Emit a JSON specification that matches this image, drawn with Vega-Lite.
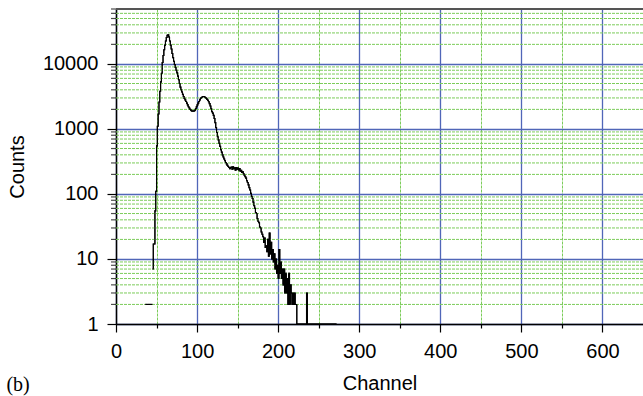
{
  "$schema": "https://vega.github.io/schema/vega-lite/v6.json",
  "width": 527,
  "height": 315,
  "autosize": {"type": "none"},
  "padding": {"left": 116, "top": 9, "right": 0, "bottom": 72},
  "background": "white",
  "config": {
    "view": {"stroke": null},
    "font": "Liberation Sans"
  },
  "title": {
    "text": "(b)",
    "orient": "bottom",
    "anchor": "start",
    "frame": "bounds",
    "font": "Liberation Serif",
    "fontSize": 20,
    "fontWeight": "normal",
    "color": "black",
    "dx": -1,
    "dy": -22
  },
  "datasets": {
    "minor": [
      {"g": 2}, {"g": 3}, {"g": 4}, {"g": 5}, {"g": 6}, {"g": 7}, {"g": 8}, {"g": 9},
      {"g": 20}, {"g": 30}, {"g": 40}, {"g": 50}, {"g": 60}, {"g": 70}, {"g": 80}, {"g": 90},
      {"g": 200}, {"g": 300}, {"g": 400}, {"g": 500}, {"g": 600}, {"g": 700}, {"g": 800}, {"g": 900},
      {"g": 2000}, {"g": 3000}, {"g": 4000}, {"g": 5000}, {"g": 6000}, {"g": 7000}, {"g": 8000}, {"g": 9000},
      {"g": 20000}, {"g": 30000}, {"g": 40000}, {"g": 50000}, {"g": 60000}, {"g": 70000}
    ],
    "counts": [
      {"c": 36, "v": 2, "s": "a"}, {"c": 45, "v": 2, "s": "a"},
      {"c": 45, "v": 7, "s": "b"}, {"c": 46, "v": 17, "s": "b"}, {"c": 47, "v": 17, "s": "b"}, {"c": 48, "v": 55, "s": "b"},
      {"c": 49, "v": 110, "s": "b"}, {"c": 50, "v": 550, "s": "b"}, {"c": 51, "v": 1100, "s": "b"}, {"c": 52, "v": 1700, "s": "b"},
      {"c": 53, "v": 2600, "s": "b"}, {"c": 54, "v": 3800, "s": "b"}, {"c": 55, "v": 5300, "s": "b"}, {"c": 56, "v": 7200, "s": "b"},
      {"c": 57, "v": 10500, "s": "b"}, {"c": 58, "v": 13500, "s": "b"}, {"c": 59, "v": 16500, "s": "b"}, {"c": 60, "v": 19500, "s": "b"},
      {"c": 61, "v": 22500, "s": "b"}, {"c": 62, "v": 25500, "s": "b"}, {"c": 63, "v": 27500, "s": "b"}, {"c": 64, "v": 28000, "s": "b"},
      {"c": 65, "v": 26000, "s": "b"}, {"c": 66, "v": 22500, "s": "b"}, {"c": 67, "v": 19500, "s": "b"}, {"c": 68, "v": 17000, "s": "b"},
      {"c": 69, "v": 14500, "s": "b"}, {"c": 70, "v": 12500, "s": "b"}, {"c": 71, "v": 11000, "s": "b"}, {"c": 72, "v": 9800, "s": "b"},
      {"c": 73, "v": 8800, "s": "b"}, {"c": 74, "v": 8000, "s": "b"}, {"c": 75, "v": 7300, "s": "b"}, {"c": 76, "v": 6500, "s": "b"},
      {"c": 77, "v": 5700, "s": "b"}, {"c": 78, "v": 5000, "s": "b"}, {"c": 79, "v": 4400, "s": "b"}, {"c": 80, "v": 4000, "s": "b"},
      {"c": 81, "v": 3700, "s": "b"}, {"c": 82, "v": 3400, "s": "b"}, {"c": 83, "v": 3150, "s": "b"}, {"c": 84, "v": 2950, "s": "b"},
      {"c": 85, "v": 2800, "s": "b"}, {"c": 86, "v": 2650, "s": "b"}, {"c": 87, "v": 2500, "s": "b"}, {"c": 88, "v": 2350, "s": "b"},
      {"c": 89, "v": 2200, "s": "b"}, {"c": 90, "v": 2100, "s": "b"}, {"c": 91, "v": 2000, "s": "b"}, {"c": 92, "v": 1950, "s": "b"},
      {"c": 93, "v": 1900, "s": "b"}, {"c": 94, "v": 1880, "s": "b"}, {"c": 95, "v": 1880, "s": "b"}, {"c": 96, "v": 1900, "s": "b"},
      {"c": 97, "v": 1950, "s": "b"}, {"c": 98, "v": 2050, "s": "b"}, {"c": 99, "v": 2200, "s": "b"}, {"c": 100, "v": 2350, "s": "b"},
      {"c": 101, "v": 2500, "s": "b"}, {"c": 102, "v": 2650, "s": "b"}, {"c": 103, "v": 2800, "s": "b"}, {"c": 104, "v": 2950, "s": "b"},
      {"c": 105, "v": 3050, "s": "b"}, {"c": 106, "v": 3100, "s": "b"}, {"c": 107, "v": 3150, "s": "b"}, {"c": 108, "v": 3150, "s": "b"},
      {"c": 109, "v": 3100, "s": "b"}, {"c": 110, "v": 3050, "s": "b"}, {"c": 111, "v": 2950, "s": "b"}, {"c": 112, "v": 2850, "s": "b"},
      {"c": 113, "v": 2750, "s": "b"}, {"c": 114, "v": 2620, "s": "b"}, {"c": 115, "v": 2450, "s": "b"}, {"c": 116, "v": 2250, "s": "b"},
      {"c": 117, "v": 2050, "s": "b"}, {"c": 118, "v": 1850, "s": "b"}, {"c": 119, "v": 1750, "s": "b"}, {"c": 120, "v": 1620, "s": "b"},
      {"c": 121, "v": 1450, "s": "b"}, {"c": 122, "v": 1250, "s": "b"}, {"c": 123, "v": 1050, "s": "b"}, {"c": 124, "v": 880, "s": "b"},
      {"c": 125, "v": 760, "s": "b"}, {"c": 126, "v": 680, "s": "b"}, {"c": 127, "v": 600, "s": "b"}, {"c": 128, "v": 540, "s": "b"},
      {"c": 129, "v": 480, "s": "b"}, {"c": 130, "v": 440, "s": "b"}, {"c": 131, "v": 400, "s": "b"}, {"c": 132, "v": 370, "s": "b"},
      {"c": 133, "v": 345, "s": "b"}, {"c": 134, "v": 325, "s": "b"}, {"c": 135, "v": 305, "s": "b"}, {"c": 136, "v": 290, "s": "b"},
      {"c": 137, "v": 275, "s": "b"}, {"c": 138, "v": 265, "s": "b"}, {"c": 139, "v": 255, "s": "b"}, {"c": 140, "v": 245, "s": "b"},
      {"c": 141, "v": 255, "s": "b"}, {"c": 142, "v": 260, "s": "b"}, {"c": 143, "v": 240, "s": "b"}, {"c": 144, "v": 262, "s": "b"},
      {"c": 145, "v": 245, "s": "b"}, {"c": 146, "v": 252, "s": "b"}, {"c": 147, "v": 232, "s": "b"}, {"c": 148, "v": 255, "s": "b"},
      {"c": 149, "v": 240, "s": "b"}, {"c": 150, "v": 250, "s": "b"}, {"c": 151, "v": 235, "s": "b"}, {"c": 152, "v": 245, "s": "b"},
      {"c": 153, "v": 225, "s": "b"}, {"c": 154, "v": 232, "s": "b"}, {"c": 155, "v": 215, "s": "b"}, {"c": 156, "v": 220, "s": "b"},
      {"c": 157, "v": 205, "s": "b"}, {"c": 158, "v": 195, "s": "b"}, {"c": 159, "v": 185, "s": "b"}, {"c": 160, "v": 175, "s": "b"},
      {"c": 161, "v": 160, "s": "b"}, {"c": 162, "v": 150, "s": "b"}, {"c": 163, "v": 138, "s": "b"}, {"c": 164, "v": 125, "s": "b"},
      {"c": 165, "v": 115, "s": "b"}, {"c": 166, "v": 102, "s": "b"}, {"c": 167, "v": 92, "s": "b"}, {"c": 168, "v": 85, "s": "b"},
      {"c": 169, "v": 75, "s": "b"}, {"c": 170, "v": 66, "s": "b"}, {"c": 171, "v": 60, "s": "b"}, {"c": 172, "v": 52, "s": "b"},
      {"c": 173, "v": 50, "s": "b"}, {"c": 174, "v": 42, "s": "b"}, {"c": 175, "v": 38, "s": "b"}, {"c": 176, "v": 36, "s": "b"},
      {"c": 177, "v": 31, "s": "b"}, {"c": 178, "v": 30, "s": "b"}, {"c": 179, "v": 26, "s": "b"}, {"c": 180, "v": 24, "s": "b"},
      {"c": 181, "v": 22, "s": "b"}, {"c": 182, "v": 18, "s": "b"}, {"c": 183, "v": 21, "s": "b"}, {"c": 184, "v": 15, "s": "b"},
      {"c": 185, "v": 16, "s": "b"}, {"c": 186, "v": 13, "s": "b"}, {"c": 187, "v": 20, "s": "b"}, {"c": 188, "v": 11, "s": "b"},
      {"c": 189, "v": 25, "s": "b"}, {"c": 190, "v": 12, "s": "b"}, {"c": 191, "v": 18, "s": "b"}, {"c": 192, "v": 10, "s": "b"},
      {"c": 193, "v": 14, "s": "b"}, {"c": 194, "v": 9, "s": "b"}, {"c": 195, "v": 12, "s": "b"}, {"c": 196, "v": 7, "s": "b"},
      {"c": 197, "v": 10, "s": "b"}, {"c": 198, "v": 6, "s": "b"}, {"c": 199, "v": 8, "s": "b"}, {"c": 200, "v": 5, "s": "b"},
      {"c": 201, "v": 14, "s": "b"}, {"c": 202, "v": 6, "s": "b"}, {"c": 203, "v": 9, "s": "b"}, {"c": 204, "v": 5, "s": "b"},
      {"c": 205, "v": 7, "s": "b"}, {"c": 206, "v": 4, "s": "b"}, {"c": 207, "v": 7, "s": "b"}, {"c": 208, "v": 3, "s": "b"},
      {"c": 209, "v": 6, "s": "b"}, {"c": 210, "v": 3, "s": "b"}, {"c": 211, "v": 5, "s": "b"}, {"c": 212, "v": 2, "s": "b"},
      {"c": 213, "v": 6, "s": "b"}, {"c": 214, "v": 2, "s": "b"}, {"c": 215, "v": 4, "s": "b"}, {"c": 216, "v": 3, "s": "b"},
      {"c": 217, "v": 2, "s": "b"}, {"c": 218, "v": 3, "s": "b"}, {"c": 219, "v": 2, "s": "b"}, {"c": 220, "v": 3, "s": "b"},
      {"c": 221, "v": 2, "s": "b"}, {"c": 222, "v": 2, "s": "b"}, {"c": 223, "v": 1, "s": "b"}, {"c": 235, "v": 3, "s": "b"},
      {"c": 236, "v": 1, "s": "b"}, {"c": 272, "v": 1, "s": "b"}
    ]
  },
  "layer": [
    {
      "data": {"name": "counts"},
      "mark": {"type": "line", "interpolate": "step-after", "color": "black", "strokeWidth": 1.1},
      "encoding": {
        "detail": {"field": "s", "type": "nominal"},
        "x": {
          "field": "c",
          "type": "quantitative",
          "title": "Channel",
          "scale": {"domain": [0, 650], "nice": false, "zero": false},
          "axis": {
            "values": [0, 50, 100, 150, 200, 250, 300, 350, 400, 450, 500, 550, 600],
            "format": "d",
            "labelExpr": "datum.value % 100 == 0 ? datum.label : ''",
            "labelOverlap": false,
            "labelFlush": false,
            "labelFontSize": 20,
            "labelColor": "black",
            "labelPadding": 9,
            "grid": true,
            "gridColor": {"condition": {"test": "datum.value % 100 == 0", "value": "#5066b8"}, "value": "#7ccc5a"},
            "gridDash": {"condition": {"test": "datum.value % 100 == 0", "value": []}, "value": [3, 1]},
            "gridWidth": {"condition": {"test": "datum.value % 100 == 0", "value": 1.3}, "value": 1},
            "tickSize": {"condition": {"test": "datum.value % 100 == 0", "value": 8}, "value": 4},
            "tickColor": "black",
            "tickWidth": 1.2,
            "domainColor": "black",
            "domainWidth": 1.5,
            "titleFontSize": 20,
            "titleFontWeight": "normal",
            "titleColor": "black",
            "titlePadding": 12
          }
        },
        "y": {
          "field": "v",
          "type": "quantitative",
          "title": "Counts",
          "scale": {"type": "log", "domain": [1, 70000], "nice": false},
          "axis": {
            "values": [1, 10, 100, 1000, 10000],
            "format": "d",
            "labelOverlap": false,
            "labelFlush": false,
            "labelFontSize": 20,
            "labelColor": "black",
            "labelPadding": 9,
            "grid": true,
            "gridColor": "#5066b8",
            "gridWidth": 1.3,
            "tickSize": 9,
            "tickColor": "black",
            "tickWidth": 1.2,
            "domainColor": "black",
            "domainWidth": 1.5,
            "titleFontSize": 20,
            "titleFontWeight": "normal",
            "titleColor": "black",
            "titlePadding": 15
          }
        }
      }
    },
    {
      "data": {"name": "minor"},
      "mark": {"type": "rule", "color": "#7ccc5a", "strokeDash": [3, 1], "strokeWidth": 1},
      "encoding": {"y": {"field": "g", "type": "quantitative", "title": "Counts"}}
    },
    {
      "data": {"name": "minor"},
      "mark": {"type": "tick", "orient": "horizontal", "size": 5, "thickness": 1.2, "color": "black", "xOffset": -2.5},
      "encoding": {
        "x": {"datum": 0, "type": "quantitative", "title": "Channel"},
        "y": {"field": "g", "type": "quantitative", "title": "Counts"}
      }
    },
    {
      "data": {"name": "counts"},
      "mark": {"type": "line", "interpolate": "step-after", "color": "black", "strokeWidth": 1.1},
      "encoding": {
        "detail": {"field": "s", "type": "nominal"},
        "x": {"field": "c", "type": "quantitative", "title": "Channel"},
        "y": {"field": "v", "type": "quantitative", "title": "Counts"}
      }
    },
    {
      "data": {"name": "minor"},
      "mark": {"type": "rule", "color": "#555555", "strokeWidth": 2},
      "encoding": {"y": {"datum": 70000, "type": "quantitative", "title": "Counts"}}
    }
  ]
}
